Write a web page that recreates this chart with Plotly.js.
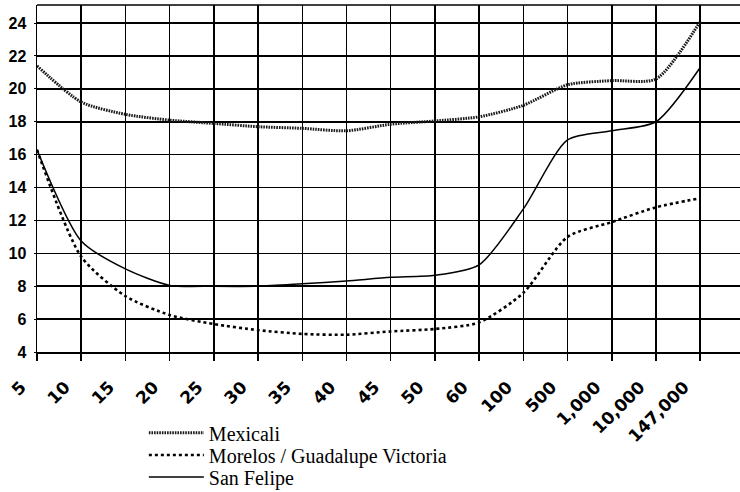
<!DOCTYPE html>
<html>
<head>
<meta charset="utf-8">
<script src="https://cdn.plot.ly/plotly-3.0.1.min.js"></script>
<style>html,body{margin:0;padding:0;background:#fff;}#chart{width:740px;height:492px;}</style>
</head>
<body>
<div id="chart"></div>
<script>
const categories = ["5","10","15","20","25","30","35","40","45","50","60","100","500","1,000","10,000","147,000"];
const mexicali = [21.4,19.2,18.45,18.1,17.9,17.7,17.6,17.45,17.85,18.05,18.3,19.0,20.25,20.5,20.6,24.1];
const morelos = [16.3,9.8,7.4,6.25,5.7,5.33,5.1,5.05,5.25,5.4,5.8,7.6,11.0,11.9,12.8,13.35];
const sanFelipe = [16.3,10.75,9.05,8.05,8.0,8.0,8.15,8.32,8.54,8.66,9.3,12.7,16.9,17.45,18.0,21.3];
const seriesNames = ["Mexicali","Morelos / Guadalupe Victoria","San Felipe"];
const yTicks = [4,6,8,10,12,14,16,18,20,22,24];

const xIdx = categories.map((c,i)=>i);

const traces = [
  {x:xIdx, y:mexicali, name:seriesNames[0], legend:'legend', mode:'lines', line:{color:'#1a1a1a', width:3, dash:'1.6px,1px', shape:'spline', smoothing:0.7}},
  {x:xIdx, y:morelos, name:seriesNames[1], legend:'legend2', mode:'lines', line:{color:'#000', width:2.6, dash:'dot', shape:'spline', smoothing:0.7}},
  {x:xIdx, y:sanFelipe, name:seriesNames[2], legend:'legend3', mode:'lines', line:{color:'#000', width:1.5, shape:'spline', smoothing:0.7}}
];

const legFont = {family:'Liberation Serif, Times New Roman, serif', size:20, color:'#000'};
function leg(yc){
  return {x:0.152, y:yc, xanchor:'left', yanchor:'middle', orientation:'v',
    font:legFont, bgcolor:'rgba(0,0,0,0)', itemwidth:55};
}

const layout = {
  width:740, height:492,
  margin:{l:37, r:0, t:5, b:140, autoexpand:false},
  paper_bgcolor:'#fff', plot_bgcolor:'#fff',
  showlegend:true,
  legend:leg(-0.233),
  legend2:leg(-0.297),
  legend3:leg(-0.360),
  xaxis:{
    range:[0,15.9], tickmode:'array', tickvals:xIdx, ticktext:categories,
    tickangle:-45, ticks:'outside', ticklen:7, tickwidth:1.5, tickcolor:'#000',
    ticklabelstandoff:10, ticklabelshift:-16, automargin:false,
    showgrid:true, gridcolor:'#000', gridwidth:1.5,
    showline:true, linecolor:'#000', linewidth:1.5, zeroline:false,
    tickfont:{family:'DejaVu Sans, sans-serif', size:17, color:'#000', weight:'bold'}
  },
  yaxis:{
    range:[4,25.1], tickmode:'array', tickvals:yTicks, automargin:false,
    ticks:'outside', ticklen:2, tickcolor:'#000', ticklabelstandoff:4,
    showgrid:true, gridcolor:'#000', gridwidth:1.5,
    showline:true, linecolor:'#000', linewidth:1.5, zeroline:false,
    tickfont:{family:'Liberation Sans, Arial, sans-serif', size:16, color:'#000', weight:'bold'}
  },
  shapes:[{type:'line', xref:'paper', yref:'paper', x0:0, x1:1, y0:1, y1:1, line:{color:'#000', width:1.5}}]
};

Plotly.newPlot('chart', traces, layout, {displayModeBar:false, staticPlot:true});
</script>
</body>
</html>
